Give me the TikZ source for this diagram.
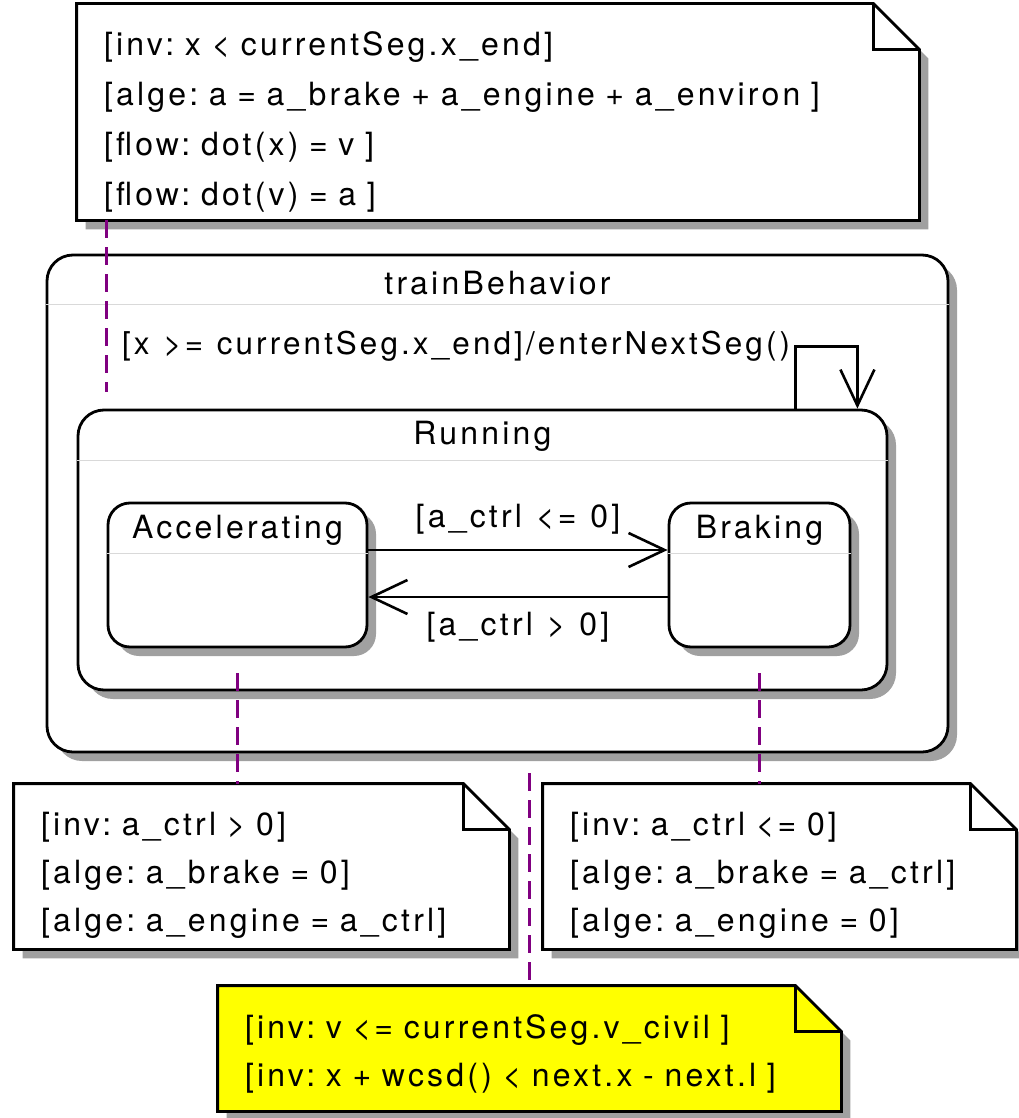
\documentclass[tikz,border=0pt]{standalone}
\usepackage{fontspec}
\setmainfont{TeX Gyre Heros}[LetterSpace=10,WordSpace=1.15]
\frenchspacing
\usetikzlibrary{arrows.meta,shadows,calc,backgrounds}

\definecolor{shadowgray}{RGB}{160,160,160}
\definecolor{notelink}{RGB}{128,0,128}
\definecolor{noteyellow}{RGB}{255,255,0}

\begin{document}
\begin{tikzpicture}
[x=1pt,y=-1pt, line width=2.8pt,
>={Straight Barb[length=36pt,width=34pt,line width=2.6pt]},
font=\fontsize{32}{48}\selectfont,
shade/.style={drop shadow={shadow xshift=9pt,shadow yshift=-9pt,fill=shadowgray,opacity=1}},
state/.style={draw,fill=white,rounded corners=22pt,shade,inner sep=0pt},
title/.style={inner sep=0pt},
sep/.style={line width=0.6pt,draw=black!15},
trans/.style={->,line width=2.6pt},
memobox/.style={inner sep=0pt,inner xsep=26pt,align=left},
memo/.style={draw,fill=white,shade,line width=2.8pt,line join=miter},
fold/.style={draw,line width=2.8pt},
link/.style={draw=notelink,line width=3pt,dash pattern=on 18pt off 9pt}]

\useasboundingbox (0,0) rectangle (1019,1118);

% states
\node[state,rounded corners=26pt,minimum width=901,minimum height=497] (train) at (497.5,503.5) {};
\node[title] (traint) at ([yshift=-29pt]train.north) {trainBehavior};
\draw[sep] ([yshift=-51pt]train.north west) -- ([yshift=-51pt]train.north east);

\node[state,rounded corners=26pt,minimum width=809,minimum height=280] (run) at (482.5,550) {};
\node[title] (runt) at ([yshift=-28pt]run.north) {Running};
\draw[sep] ([yshift=-52pt]run.north west) -- ([yshift=-52pt]run.north east);

\node[state,minimum width=259,minimum height=144] (acc) at (237.5,575) {};
\node[title] (acct) at ([yshift=-29pt]acc.north) {Accelerating};
\draw[sep] ([yshift=-52pt]acc.north west) -- ([yshift=-52pt]acc.north east);

\node[state,minimum width=181,minimum height=144] (brk) at (759.5,575) {};
\node[title] (brkt) at ([yshift=-29pt]brk.north) {Braking};
\draw[sep] ([yshift=-52pt]brk.north west) -- ([yshift=-52pt]brk.north east);

% transitions
\draw[trans] ([xshift=-93pt]run.north east) -- ++(0,-62)
  node[anchor=east,inner sep=4pt,font=\fontsize{31.4}{40}\selectfont] {[x >= currentSeg.x\_end]/enterNextSeg()}
  -| ([xshift=-31pt]run.north east);
\draw[trans] ([yshift=25pt]acc.east) -- node[above=14pt,inner sep=0pt] {[a\_ctrl <= 0]} ([yshift=25pt]brk.west);
\draw[trans] ([yshift=-22pt]brk.west) -- node[below=14pt,inner sep=0pt] {[a\_ctrl > 0]} ([yshift=-22pt]acc.east);

% notes
\node[memobox,minimum width=840,minimum height=214,text width=788,font=\fontsize{32}{50}\selectfont] (tnote) at (498,112)
  {\rule{0pt}{43pt}[inv: x < currentSeg.x\_end]\\
   {}[alge: a = a\_brake + a\_engine + a\_environ ]\\
   {}[flow: dot(x) = v ]\\
   {}[flow: dot(v) = a ]};
\node[memobox,minimum width=493,minimum height=163,text width=441] (lnote) at (261.5,866.5)
  {\rule{0pt}{41pt}[inv: a\_ctrl > 0]\\
   {}[alge: a\_brake = 0]\\
   {}[alge: a\_engine = a\_ctrl]};
\node[memobox,minimum width=471,minimum height=163,text width=419] (rnote) at (779.5,866.5)
  {\rule{0pt}{41pt}[inv: a\_ctrl <= 0]\\
   {}[alge: a\_brake = a\_ctrl]\\
   {}[alge: a\_engine = 0]};
\node[memobox,minimum width=621,minimum height=123,text width=569] (ynote) at (529.5,1048.5)
  {\rule{0pt}{35pt}[inv: v <= currentSeg.v\_civil ]\\
   {}[inv: x + wcsd() < next.x - next.l ]};

\begin{scope}[on background layer]
\foreach \n/\c in {tnote/white,lnote/white,rnote/white,ynote/noteyellow} {
  \draw[memo,fill=\c] (\n.north west) -- ([xshift=-46pt]\n.north east) -- ([yshift=-46pt]\n.north east)
    -- (\n.south east) -- (\n.south west) -- cycle;
  \draw[fold] ([xshift=-46pt]\n.north east) |- ([yshift=-46pt]\n.north east);
}
\end{scope}

% note links
\draw[link] ([xshift=30pt]tnote.south west) -- ([xshift=30pt,yshift=17pt]run.north west);
\draw[link] ([yshift=-25pt]acc.south) -- (acc.south |- lnote.north);
\draw[link] ([yshift=-25pt]brk.south) -- (brk.south |- rnote.north);
\draw[link] ([yshift=-20pt]train.south -| ynote.north) -- (ynote.north);

\end{tikzpicture}
\end{document}
